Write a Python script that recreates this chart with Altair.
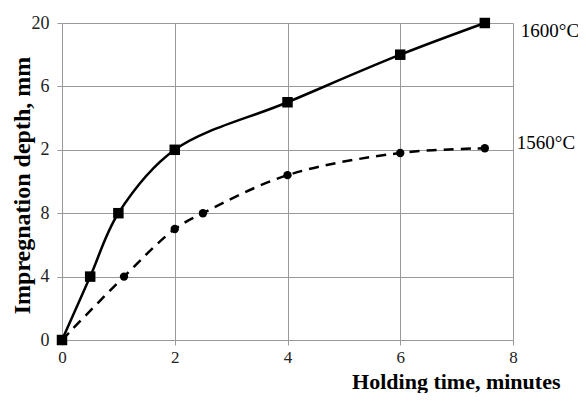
import altair as alt
import pandas as pd

# Data
time_1600 = [0, 0.5, 1, 2, 4, 6, 7.5]
depth_1600 = [0, 4, 8, 12, 15, 18, 20]
time_1560 = [0, 1.1, 2, 2.5, 4, 6, 7.5]
depth_1560 = [0, 4, 7, 8, 10.4, 11.8, 12.1]
series_names = ["1600°C", "1560°C"]

x_ticks = [0, 2, 4, 6, 8]
y_ticks = [0, 4, 8, 12, 16, 20]
y_tick_labels = ["0", "4", "8", "2", "6", "20"]

df = pd.DataFrame(
    [{"t": t, "d": d, "series": series_names[0]} for t, d in zip(time_1600, depth_1600)]
    + [{"t": t, "d": d, "series": series_names[1]} for t, d in zip(time_1560, depth_1560)]
)
df_1600 = df[df.series == series_names[0]]
df_1560 = df[df.series == series_names[1]]
lab_1600 = pd.DataFrame({"t": [time_1600[-1]], "d": [depth_1600[-1]], "series": [series_names[0]]})
lab_1560 = pd.DataFrame({"t": [time_1560[-1]], "d": [depth_1560[-1]], "series": [series_names[1]]})

label_expr = " : ".join(
    [f"datum.value == {v} ? '{l}'" for v, l in zip(y_ticks, y_tick_labels)] + ["datum.label"]
)

SERIF = "Liberation Serif"
GRID = "#999999"
common_axis = dict(
    grid=True, gridColor=GRID, gridWidth=1, gridOpacity=1,
    domain=False, tickColor=GRID, tickSize=5, tickWidth=1,
    labelFont=SERIF, labelColor="#222222", labelFlush=False,
    titleFont=SERIF, titleFontWeight="bold", titleColor="black",
)

x_enc = alt.X("t:Q", scale=alt.Scale(domain=[0, 8], nice=False),
              axis=alt.Axis(values=x_ticks, format="d", labelPadding=4, labelFontSize=17,
                            title="Holding time, minutes", titleFontSize=22,
                            titleAlign="right", titleAnchor="end", titleX=498, titleY=48,
                            titleBaseline="alphabetic", **common_axis))
y_enc = alt.Y("d:Q", scale=alt.Scale(domain=[0, 20], nice=False),
              axis=alt.Axis(values=y_ticks, labelExpr=label_expr, labelPadding=8, labelFontSize=18,
                            title="Impregnation depth, mm", titleFontSize=24,
                            titleX=-40, titleY=162, titleBaseline="middle", titleAlign="center",
                            **common_axis))

interp = "catmull-rom"
line_1600 = alt.Chart(df_1600).mark_line(color="black", strokeWidth=2.5, interpolate=interp).encode(x=x_enc, y=y_enc)
pts_1600 = alt.Chart(df_1600).mark_point(shape="square", filled=True, color="black", size=110, opacity=1).encode(x="t:Q", y="d:Q")
line_1560 = alt.Chart(df_1560).mark_line(color="black", strokeWidth=2.5, strokeDash=[10, 7], interpolate=interp).encode(x="t:Q", y="d:Q")
pts_1560 = alt.Chart(df_1560[df_1560.t > 0]).mark_point(shape="circle", filled=True, color="black", size=70, opacity=1).encode(x="t:Q", y="d:Q")
label_a = alt.Chart(lab_1600).mark_text(align="left", baseline="middle", dx=36, dy=8, font=SERIF, fontSize=19, color="black").encode(
    x="t:Q", y="d:Q", text="series:N")
label_b = alt.Chart(lab_1560).mark_text(align="left", baseline="middle", dx=32, dy=-5, font=SERIF, fontSize=19, color="black").encode(
    x="t:Q", y="d:Q", text="series:N")

chart = alt.layer(line_1560, line_1600, pts_1560, pts_1600, label_a, label_b).properties(
    width=451, height=317,
    autosize=alt.AutoSizeParams(type="none"),
    padding={"left": 54, "top": 15, "right": 65, "bottom": 53},
).configure_view(stroke=None)

chart.save("out.html", embed_options={"renderer": "svg", "actions": False})
